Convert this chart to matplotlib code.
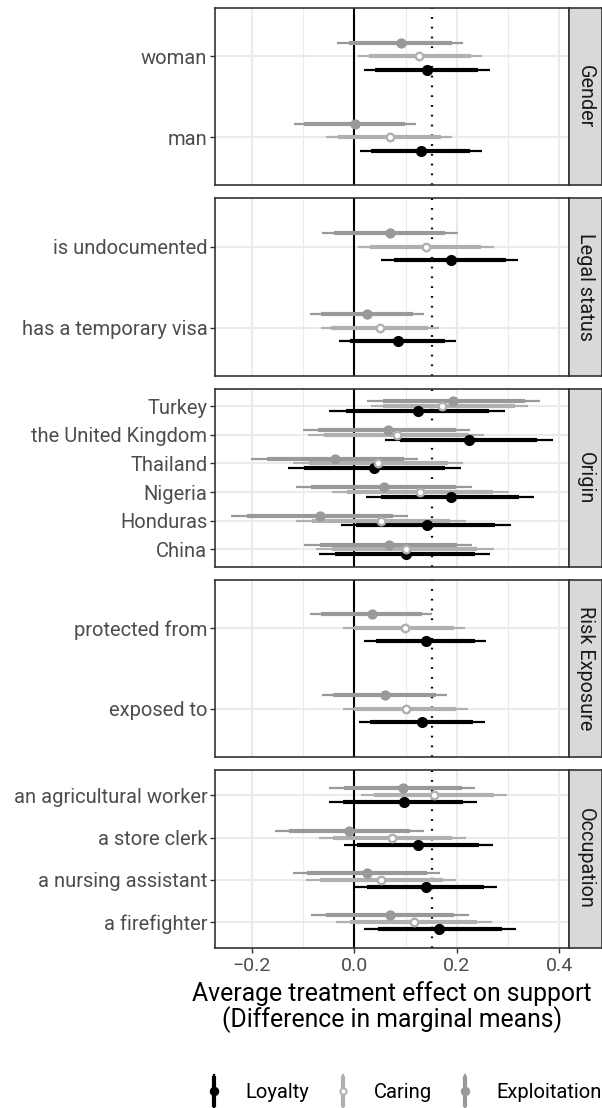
import matplotlib
matplotlib.use("Agg")
import matplotlib.pyplot as plt
from matplotlib.lines import Line2D
from matplotlib.legend_handler import HandlerBase
import numpy as np

plt.rcParams['font.family'] = ['Roboto', 'DejaVu Sans']

# ---------------- data ----------------
facets = ["Gender", "Legal status", "Origin", "Risk Exposure", "Occupation"]
gender_levels = ["woman", "man"]
legal_levels = ["is undocumented", "has a temporary visa"]
origin_levels = ["Turkey", "the United Kingdom", "Thailand", "Nigeria", "Honduras", "China"]
risk_levels = ["protected from", "exposed to"]
occupation_levels = ["an agricultural worker", "a store clerk", "a nursing assistant", "a firefighter"]

series = ["Loyalty", "Caring", "Exploitation"]

loyalty_est  = [0.142, 0.130, 0.188, 0.085, 0.124, 0.223, 0.038, 0.188, 0.141, 0.101, 0.139, 0.132, 0.096, 0.125, 0.140, 0.166]
loyalty_lo95 = [0.019, 0.011, 0.052, -0.029, -0.049, 0.059, -0.130, 0.022, -0.027, -0.069, 0.019, 0.009, -0.049, -0.021, 0.001, 0.019]
loyalty_hi95 = [0.264, 0.249, 0.319, 0.198, 0.294, 0.387, 0.208, 0.351, 0.306, 0.265, 0.257, 0.255, 0.240, 0.270, 0.278, 0.316]
loyalty_lo90 = [0.040, 0.033, 0.077, -0.008, -0.017, 0.089, -0.098, 0.052, 0.003, -0.038, 0.042, 0.031, -0.023, 0.005, 0.024, 0.046]
loyalty_hi90 = [0.242, 0.226, 0.296, 0.177, 0.262, 0.356, 0.177, 0.322, 0.275, 0.236, 0.236, 0.232, 0.213, 0.243, 0.253, 0.288]

caring_est  = [0.126, 0.069, 0.139, 0.050, 0.172, 0.083, 0.047, 0.129, 0.053, 0.100, 0.099, 0.100, 0.155, 0.074, 0.052, 0.116]
caring_lo95 = [0.007, -0.055, 0.007, -0.066, 0.032, -0.090, -0.119, -0.044, -0.114, -0.075, -0.023, -0.023, 0.013, -0.069, -0.094, -0.036]
caring_hi95 = [0.249, 0.191, 0.272, 0.165, 0.339, 0.253, 0.212, 0.301, 0.218, 0.272, 0.216, 0.221, 0.298, 0.217, 0.199, 0.268]
caring_lo90 = [0.029, -0.032, 0.031, -0.045, 0.056, -0.059, -0.088, -0.014, -0.082, -0.044, -0.001, -0.001, 0.038, -0.042, -0.068, -0.008]
caring_hi90 = [0.227, 0.169, 0.247, 0.143, 0.314, 0.223, 0.182, 0.270, 0.187, 0.239, 0.195, 0.199, 0.272, 0.191, 0.173, 0.239]

exploit_est  = [0.091, 0.002, 0.069, 0.024, 0.193, 0.065, -0.037, 0.057, -0.067, 0.068, 0.034, 0.060, 0.094, -0.010, 0.025, 0.070]
exploit_lo95 = [-0.033, -0.118, -0.064, -0.087, 0.024, -0.100, -0.202, -0.114, -0.241, -0.098, -0.087, -0.063, -0.049, -0.155, -0.119, -0.084]
exploit_hi95 = [0.213, 0.120, 0.202, 0.135, 0.363, 0.226, 0.125, 0.229, 0.105, 0.229, 0.152, 0.181, 0.236, 0.135, 0.167, 0.223]
exploit_lo90 = [-0.010, -0.098, -0.040, -0.066, 0.055, -0.071, -0.171, -0.085, -0.210, -0.067, -0.065, -0.042, -0.021, -0.128, -0.092, -0.055]
exploit_hi90 = [0.191, 0.098, 0.177, 0.115, 0.333, 0.199, 0.096, 0.198, 0.075, 0.200, 0.132, 0.160, 0.211, 0.109, 0.141, 0.195]

reference_line = 0.152
x_ticks = [-0.2, 0.0, 0.2, 0.4]
x_tick_labels = ["\u22120.2", "0.0", "0.2", "0.4"]

# ---------------- styling ----------------
W, H = 602, 1108
DPI = 100
colors = {"Loyalty": "#000000", "Caring": "#b0b0b0", "Exploitation": "#999999"}
offsets = {"Loyalty": -0.167, "Caring": 0.0, "Exploitation": 0.167}
series_data = {
    "Loyalty": (loyalty_est, loyalty_lo95, loyalty_hi95, loyalty_lo90, loyalty_hi90),
    "Caring": (caring_est, caring_lo95, caring_hi95, caring_lo90, caring_hi90),
    "Exploitation": (exploit_est, exploit_lo95, exploit_hi95, exploit_lo90, exploit_hi90),
}
facet_levels = [gender_levels, legal_levels, origin_levels, risk_levels, occupation_levels]

fig = plt.figure(figsize=(W / DPI, H / DPI), dpi=DPI)

px = 1.0 / DPI * 72  # points per pixel
panel_left, panel_right = 215, 569
strip_w = 33
panel_tops = [8, 198.5, 389, 579.5, 770]
panel_h = 177.5
border_col = "#333333"
label_fs = 14.5

start = 0
for fi, (fname, levels) in enumerate(zip(facets, facet_levels)):
    n = len(levels)
    top = panel_tops[fi]
    ax = fig.add_axes([panel_left / W, 1 - (top + panel_h) / H,
                       (panel_right - panel_left) / W, panel_h / H])
    ax.set_xlim(-0.272, 0.419)
    ax.set_ylim(0.4, n + 0.6)
    ypos = np.arange(n, 0, -1).astype(float)

    # grid
    for xv in [-0.1, 0.1, 0.3]:
        ax.axvline(xv, color="#ebebeb", lw=0.8, zorder=0)
    for xv in x_ticks:
        ax.axvline(xv, color="#ebebeb", lw=1.5, zorder=0)
    for yv in ypos:
        ax.axhline(yv, color="#ebebeb", lw=1.5, zorder=0)

    ax.axvline(0, color="black", lw=1.5, zorder=1)
    ax.axvline(reference_line, color="black", lw=1.6, dashes=(0.8, 3.6), zorder=1)

    sl = slice(start, start + n)
    for s in series:
        est, lo95, hi95, lo90, hi90 = [np.array(a[sl]) for a in series_data[s]]
        yy = ypos + offsets[s]
        c = colors[s]
        ax.hlines(yy, lo95, hi95, color=c, lw=1.6, zorder=2)
        ax.hlines(yy, lo90, hi90, color=c, lw=3.0, zorder=3)
    for s in series:
        est = np.array(series_data[s][0][sl])
        yy = ypos + offsets[s]
        c = colors[s]
        if s == "Caring":
            ax.plot(est, yy, 'o', ms=5.4, mfc="white", mec=c, mew=1.7, zorder=4)
        elif s == "Loyalty":
            ax.plot(est, yy, 'o', ms=7.0, color=c, mec=c, zorder=4)
        else:
            ax.plot(est, yy, 'o', ms=6.4, color=c, mec=c, zorder=4)
    start += n

    ax.set_yticks(ypos)
    ax.set_yticklabels(levels, fontsize=label_fs, color="#4d4d4d")
    ax.tick_params(axis="y", length=3.5, width=1.0, color=border_col, pad=2)
    ax.set_xticks(x_ticks)
    if fi == len(facets) - 1:
        ax.set_xticklabels(x_tick_labels, fontsize=14, color="#4d4d4d")
        ax.tick_params(axis="x", length=3.5, width=1.0, color=border_col, pad=3)
    else:
        ax.tick_params(axis="x", length=0, labelbottom=False)
    for sp in ax.spines.values():
        sp.set_color(border_col)
        sp.set_linewidth(1.2)
        sp.set_zorder(5)

    # strip
    sax = fig.add_axes([panel_right / W, 1 - (top + panel_h) / H,
                        strip_w / W, panel_h / H])
    sax.set_facecolor("#d9d9d9")
    sax.set_xticks([])
    sax.set_yticks([])
    for sp in sax.spines.values():
        sp.set_color(border_col)
        sp.set_linewidth(1.2)
    sax.text(0.5, 0.5, fname, rotation=270, ha="center", va="center",
             fontsize=14.3, color="#1a1a1a", transform=sax.transAxes)

    if fi == len(facets) - 1:
        ax.set_xlabel("Average treatment effect on support\n(Difference in marginal means)",
                      fontsize=17.8, color="black", labelpad=5, linespacing=1.0)


# ---------------- legend ----------------
class VertKey(HandlerBase):
    def __init__(self, color, kind):
        super().__init__()
        self.color = color
        self.kind = kind

    def create_artists(self, legend, orig_handle, xdescent, ydescent, width, height, fontsize, trans):
        cx = width / 2 - xdescent
        cy = height / 2 - ydescent
        half = 16 * px
        l1 = Line2D([cx, cx], [cy - half, cy + half], color=self.color, lw=1.6, transform=trans)
        l2 = Line2D([cx, cx], [cy - half * 0.82, cy + half * 0.82], color=self.color, lw=3.0, transform=trans)
        if self.kind == "Caring":
            m = Line2D([cx], [cy], marker='o', ms=4.5, mfc="white", mec=self.color, mew=1.4, transform=trans)
        else:
            m = Line2D([cx], [cy], marker='o', ms=5.8, color=self.color, transform=trans)
        return [l1, l2, m]

handles = [Line2D([], [], color=colors[s]) for s in series]
handler_map = {h: VertKey(colors[s], s) for h, s in zip(handles, series)}
fig.legend(handles, series, handler_map=handler_map, loc="center",
           bbox_to_anchor=(403 / W, 1 - 1093 / H), ncol=3, frameon=False,
           fontsize=14.5, handlelength=1.0, handletextpad=1.05, columnspacing=1.15,
           borderpad=0.2, borderaxespad=0)

fig.savefig("out.png", dpi=DPI)
